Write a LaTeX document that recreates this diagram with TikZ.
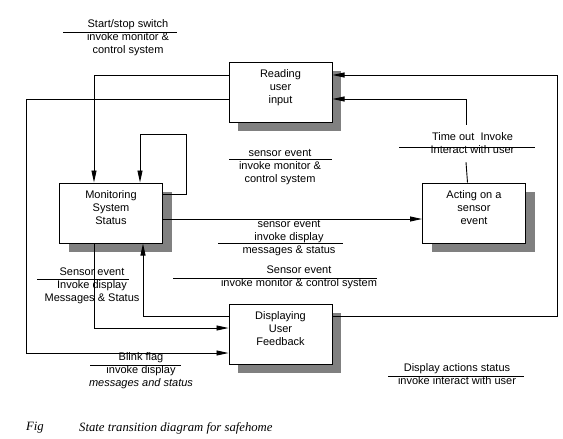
\documentclass[tikz,border=0pt]{standalone}
\usepackage{fontspec}
\setmainfont{Liberation Sans}
\newfontfamily\capfont{Liberation Serif}
\usetikzlibrary{arrows.meta,shadows,positioning}
\tikzset{
  basic/.style  = {draw, line width=1pt, fill=white, font=\fontsize{11}{13}\selectfont},
  state/.style  = {basic, align=center, minimum width=103pt, minimum height=60pt, text depth=10pt,
  drop shadow={shadow xshift=9pt, shadow yshift=-9pt, fill=black!50, opacity=1}},
  tag/.style    = {font=\fontsize{11}{13}\selectfont, align=center, inner sep=0pt},
  rule/.style   = {line width=0.8pt},
  flow/.style   = {line width=0.9pt, -{Triangle[length=12pt,width=5pt]}},
  caption/.style = {font=\capfont\itshape\fontsize{12.7}{15}\selectfont, anchor=west, inner sep=0pt}
}

\begin{document}
\begin{tikzpicture}[x=1pt,y=-1pt]
\useasboundingbox (0,0) rectangle (563,439);
% the four states
\node [state] (read) at (280.5,92) {Reading\\user\\input};
\node [state] (mon) at (111,213) {Monitoring\\System\\Status};
\node [state, right=259pt of mon] (act) {Acting on a\\sensor\\event};
\node [state, below=181pt of read] (disp) {Displaying\\User\\Feedback};
% transition labels
\begin{scope}[every node/.style={tag}]
\node (start) at (128,38) {Start/stop switch\\invoke monitor \&\\control system};
\node (sens1) at (280,167) {sensor event\\invoke monitor \&\\control system};
\node (sens2) at (289,238) {sensor event\\invoke display\\messages \& status};
\node (sens3) at (299,277.5) {Sensor event\\invoke monitor \& control system};
\node (sens4) at (92,286) {Sensor event\\Invoke display\\Messages \& Status};
\node (blink) at (141,371) {Blink flag\\invoke display\\\textit{messages and status}};
\node (dact) at (457,374.5) {Display actions status\\invoke interact with user};
\node [inner ysep=8pt] (tout) at (472.5,143.5) {Time out\ \ Invoke\\Interact with user};
\end{scope}
% rules under the event names
\draw [rule] (63,32) -- (177,32);
\draw [rule] (229,159) -- (332,159);
\draw [rule] (218,243) -- (343,243);
\draw [rule] (173,278) -- (377,278);
\draw [rule] (37,279) -- (129,279);
\draw [rule] (90,365) -- (181,365);
\draw [rule] (388,376) -- (524,376);
\draw [rule] (399,147) -- (535,147);
% from reading user input
\draw [flow] ([yshift=17pt]read.west) -| ([xshift=-17pt]mon.north);
\draw [flow] ([yshift=-7pt]read.west) -- ++(-202,0) |- ([yshift=-19pt]disp.west);
% monitoring loops and branches
\draw [flow] ([yshift=19pt]mon.east) -- ++(23,0) -- ++(0,-60) -| ([xshift=29pt]mon.north);
\draw [flow] ([yshift=-6pt]mon.east) -- ([yshift=-6pt]act.west);
\draw [flow] ([xshift=-17pt]mon.south) |- ([yshift=6pt]disp.west);
% back from displaying user feedback
\draw [flow] ([yshift=18pt]disp.west) -| ([xshift=32pt]mon.south);
\draw [flow] ([yshift=18pt]disp.east) -- ++(225,0) |- ([yshift=17pt]read.east);
% time out
\draw [line width=0.9pt] ([xshift=-6.5pt]act.north) -- ([xshift=-6.5pt]tout.south);
\draw [flow] ([xshift=-6.5pt]tout.north) |- ([yshift=-7pt]read.east);
% caption
\node [caption] (fig) at (26,428) {Fig};
\node [caption] (cap) at (79,428) {State transition diagram for safehome};
\end{tikzpicture}
\end{document}
